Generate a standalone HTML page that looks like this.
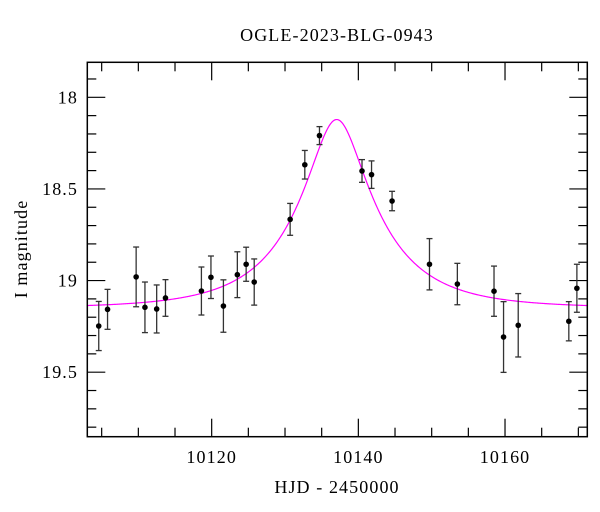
<!DOCTYPE html>
<html><head><meta charset="utf-8"><style>
body{margin:0;background:#fff;}
svg{display:block;font-family:"Liberation Serif",serif;}
</style></head><body>
<svg id="chart" width="600" height="512">
<text x="337" y="41" text-anchor="middle" font-size="18" letter-spacing="1.1">OGLE-2023-BLG-0943</text>
<text x="337" y="493" text-anchor="middle" font-size="18" letter-spacing="1.1">HJD - 2450000</text>
<text transform="translate(27,249) rotate(-90)" text-anchor="middle" font-size="18" letter-spacing="1.1">I magnitude</text>
<g id="ticks"></g>
<g id="model"></g>
<g id="points"></g>
<rect x="87.3" y="62.3" width="500" height="374.4" fill="none" stroke="#000" stroke-width="1.5"/>
</svg>
<script>
const times=[10104.6,10105.8,10109.7,10110.9,10112.5,10113.7,10118.6,10119.9,10121.6,10123.5,10124.7,10125.8,10130.7,10132.7,10134.7,10140.5,10141.8,10144.6,10149.7,10153.5,10158.5,10159.8,10161.8,10168.7,10169.8];
const mags=[19.248,19.157,18.980,19.146,19.155,19.095,19.057,18.982,19.139,18.968,18.911,19.008,18.666,18.368,18.209,18.402,18.422,18.566,18.911,19.019,19.058,19.308,19.244,19.222,19.042];
const errs=[0.134,0.109,0.163,0.138,0.131,0.100,0.131,0.116,0.143,0.125,0.093,0.126,0.087,0.078,0.049,0.062,0.075,0.053,0.140,0.113,0.137,0.193,0.173,0.107,0.131];
const xTickLabels=[10120,10140,10160];
const yTickLabels=[18,18.5,19,19.5];
const modelT0=10137.05, modelU0=0.3, modelTE=11.96, modelFs=0.646, modelIbase=19.15;

const X0=87.3,X1=587.3,Y0=62.3,Y1=436.7;
const tMin=10103.04,tMax=10171.22,mMin=17.809,mMax=19.852;
const sx=t=>X0+(t-tMin)/(tMax-tMin)*(X1-X0);
const sy=m=>Y0+(m-mMin)/(mMax-mMin)*(Y1-Y0);
const NS="http://www.w3.org/2000/svg";
function mk(tag,attrs,parent){const e=document.createElementNS(NS,tag);for(const k in attrs)e.setAttribute(k,attrs[k]);parent.appendChild(e);return e;}
const tk=document.getElementById('ticks');
for(let t=10105;t<=10170;t+=5){
  const major=(t%20===0);const L=major?18:9;const x=sx(t);
  let l=mk('line',{x1:x,x2:x,y1:Y1,y2:Y1-L,stroke:'#000','stroke-width':1.2},tk);
  
  l=mk('line',{x1:x,x2:x,y1:Y0,y2:Y0+L,stroke:'#000','stroke-width':1.2},tk);
  
}
xTickLabels.forEach(v=>{const e=mk('text',{x:sx(v),y:463,'text-anchor':'middle','font-size':18,'letter-spacing':1.1},tk);e.textContent=v;
  });
for(let i=18;i<=198;i++){
  const m=i/10; if(m<mMin||m>mMax)continue;
  const major=(i%5===0);const L=major?18:9;const y=sy(m);
  let l=mk('line',{x1:X0,x2:X0+L,y1:y,y2:y,stroke:'#000','stroke-width':1.2},tk);
  
  l=mk('line',{x1:X1,x2:X1-L,y1:y,y2:y,stroke:'#000','stroke-width':1.2},tk);
  
}
yTickLabels.forEach(v=>{const e=mk('text',{x:78,y:sy(v)+6,'text-anchor':'end','font-size':18,'letter-spacing':1.1},tk);e.textContent=v;
  });
function modelMag(t){const d=(t-modelT0)/modelTE;const u=Math.sqrt(modelU0*modelU0+d*d);
  const A=(u*u+2)/(u*Math.sqrt(u*u+4));return modelIbase-2.5*Math.log10(modelFs*(A-1)+1);}
let d='';for(let x=X0;x<=X1;x+=1){const t=tMin+(x-X0)/(X1-X0)*(tMax-tMin);d+=(d?'L':'M')+x.toFixed(1)+','+sy(modelMag(t)).toFixed(2);}
const mp=mk('path',{d:d,fill:'none',stroke:'#ff00ff','stroke-width':1.2},document.getElementById('model'));

const pg=document.getElementById('points');
times.forEach((t,i)=>{
  const x=sx(t),y=sy(mags[i]),ya=sy(mags[i]-errs[i]),yb=sy(mags[i]+errs[i]);
  const g=mk('g',{},pg);
  
  mk('line',{x1:x,x2:x,y1:ya,y2:yb,stroke:'#333','stroke-width':1.3},g);
  mk('line',{x1:x-3,x2:x+3,y1:ya,y2:ya,stroke:'#333','stroke-width':1.3},g);
  mk('line',{x1:x-3,x2:x+3,y1:yb,y2:yb,stroke:'#333','stroke-width':1.3},g);
  mk('circle',{cx:x,cy:y,r:2.8,fill:'#000'},g);
});
</script>
</body></html>
